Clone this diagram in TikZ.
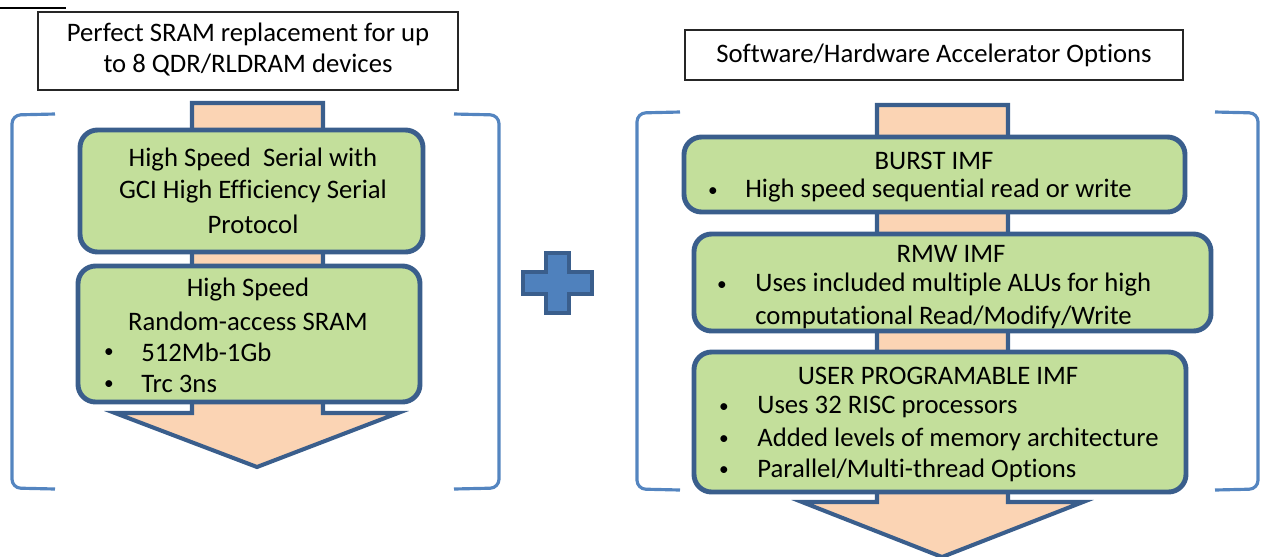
\documentclass[tikz,border=0pt]{standalone}
\usepackage{fontspec}
\setmainfont{Carlito}[Ligatures={NoCommon}]
\definecolor{boxfill}{HTML}{C3DF9B}
\definecolor{boxline}{HTML}{3A5E8C}
\definecolor{arrfill}{HTML}{FBD4B4}
\definecolor{brk}{HTML}{5485C0}
\definecolor{plusfill}{HTML}{4F81BD}
\begin{document}
\begin{tikzpicture}[x=0.02cm,y=-0.02cm,
  box/.style={draw=boxline,fill=boxfill,line width=2.8pt,rounded corners=10pt},
  arrowshape/.style={draw=boxline,fill=arrfill,line width=2.3pt,line join=miter},
  bracket/.style={draw=brk,line width=1.8pt,rounded corners=5pt},
  titlebox/.style={draw=black!85,line width=0.8pt,fill=white},
  txt/.style={inner sep=0pt,font=\fontsize{15.2}{18}\selectfont},
  ltxt/.style={txt,anchor=west},
  bul/.style={inner sep=0pt,font=\fontsize{11}{13}\selectfont}]
\useasboundingbox (0,0) rectangle (1261,556);
\draw[black,line width=1.2pt] (0,8) -- (66,8);
% title boxes
\draw[titlebox] (38,12) rectangle (458,90);
\node[txt] (t1a) at (248,34) {Perfect SRAM replacement for up};
\node[txt] (t1b) at (248,65) {to 8 QDR/RLDRAM devices};
\draw[titlebox] (685,30) rectangle (1183,80);
\node[txt] (t2) at (934,55) {Software/Hardware Accelerator Options};
% brackets
\draw[bracket] (55,114) -- (12,115) -- (12,488) -- (55,489);
\draw[bracket] (454,114) -- (499,115) -- (499,488) -- (454,489);
\draw[bracket] (680,112) -- (637,113) -- (637,489) -- (680,490);
\draw[bracket] (1215,112) -- (1258,113) -- (1258,489) -- (1215,490);
% left arrow
\draw[arrowshape] (192,103) -- (323,103) -- (323,413) -- (398,413) -- (257,467) -- (115,413) -- (192,413) -- cycle;
% right arrow
\draw[arrowshape] (877,105) -- (1008,105) -- (1008,502) -- (1083,502) -- (942,557) -- (802,502) -- (877,502) -- cycle;
% left boxes
\draw[box] (80,130) rectangle (423,252);
\node[txt] (a1) at (253,160) {High Speed\ \ Serial with};
\node[txt] (a2) at (253,192) {GCI High Efficiency Serial};
\node[txt] (a3) at (253,224) {Protocol};
\draw[box] (78,266) rectangle (420,402);
\node[txt] (b1) at (248,290) {High Speed};
\node[txt] (b2) at (248,321) {Random-access SRAM};
\node[bul] (b3d) at (109,353) {•};
\node[ltxt] (b3) at (141,352) {512Mb-1Gb};
\node[bul] (b4d) at (109,385) {•};
\node[ltxt] (b4) at (141,384) {Trc 3ns};
% plus
\draw[draw=boxline,fill=plusfill,line width=2pt,line join=miter]
  (546,253) -- (569,253) -- (569,272) -- (592,272) -- (592,294) -- (569,294) -- (569,313) -- (546,313) -- (546,294) -- (523,294) -- (523,272) -- (546,272) -- cycle;
% right boxes
\draw[box] (684,137) rectangle (1185,212);
\node[txt] (c1) at (934,161) {BURST IMF};
\node[bul] (c2d) at (713,192) {•};
\node[ltxt] (c2) at (745,191) {High speed sequential read or write};
\draw[box] (694,234) rectangle (1211,331);
\node[txt] (d1) at (951,254) {RMW IMF};
\node[bul] (d2d) at (722,286) {•};
\node[ltxt] (d2) at (755,285) {Uses included multiple ALUs for high};
\node[ltxt] (d3) at (755,317) {computational Read/Modify/Write};
\draw[box] (694,352) rectangle (1186,492);
\node[txt] (e1) at (938,376) {USER PROGRAMABLE IMF};
\node[bul] (e2d) at (724,408) {•};
\node[ltxt] (e2) at (757,407) {Uses 32 RISC processors};
\node[bul] (e3d) at (724,440) {•};
\node[ltxt] (e3) at (757,439) {Added levels of memory architecture};
\node[bul] (e4d) at (724,471) {•};
\node[ltxt] (e4) at (757,470) {Parallel/Multi-thread Options};
\end{tikzpicture}
\end{document}
